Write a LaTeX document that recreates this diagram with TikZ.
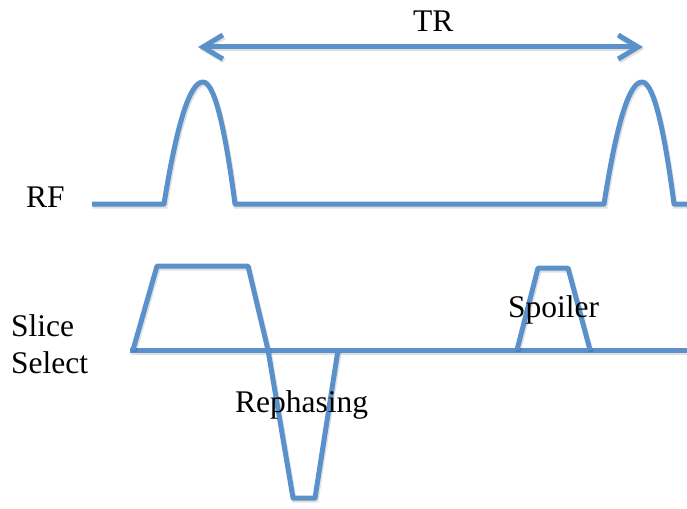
\documentclass[tikz,border=0pt]{standalone}
\usepackage{fontspec}
\setmainfont{Liberation Serif}
\usetikzlibrary{arrows.meta}
\definecolor{wave}{RGB}{90,145,203}
\tikzset{
  trace/.style={draw=wave, line width=5pt, line join=round,
    preaction={draw=black, opacity=0.12, line width=5pt,
      transform canvas={shift={(1.2pt,-2pt)}}}},
  lbl/.style={font=\fontsize{31.5}{37}\selectfont, anchor=base west, inner sep=0pt, text=black},
}
\begin{document}
\begin{tikzpicture}[x=1pt,y=-1pt]
  \useasboundingbox (0,0) rectangle (687,508);

  % TR interval arrow
  \coordinate (trL) at (198,47);
  \coordinate (trR) at (643,47);
  \draw[trace, {Straight Barb[length=20pt,width=24pt,line width=5pt]}-{Straight Barb[length=20pt,width=24pt,line width=5pt]}] (trL) -- (trR);
  \node[lbl] (tr) at (413,32) {TR};

  % RF line with two excitation pulses
  \node[lbl] (rf) at (26,207) {RF};
  \draw[trace] (92,204) -- (164,204)
    .. controls (177,122.7) and (190,82) .. (203,82)
    .. controls (213.7,82) and (224.3,122.7) .. (235,204)
    -- (604,204)
    .. controls (616.7,122.7) and (629.3,82) .. (642,82)
    .. controls (652.7,82) and (663.3,122.7) .. (674,204)
    -- (687,204);

  % Slice select axis
  \node[lbl] (ss1) at (11,336) {Slice};
  \node[lbl] (ss2) at (11,373) {Select};
  \draw[trace] (130,350) -- (687,350);

  % Slice select lobe and rephasing lobe
  \draw[trace] (133,350) -- (157,266) -- (248,266) -- (268,350)
    -- (293,498) -- (315,498) -- (338,350);
  \node[lbl] (reph) at (235,412) {Rephasing};

  % Spoiler gradient
  \draw[trace] (517,350) -- (538,268) -- (568,268) -- (590,350);
  \node[lbl] (spoil) at (508,317) {Spoiler};
\end{tikzpicture}
\end{document}
